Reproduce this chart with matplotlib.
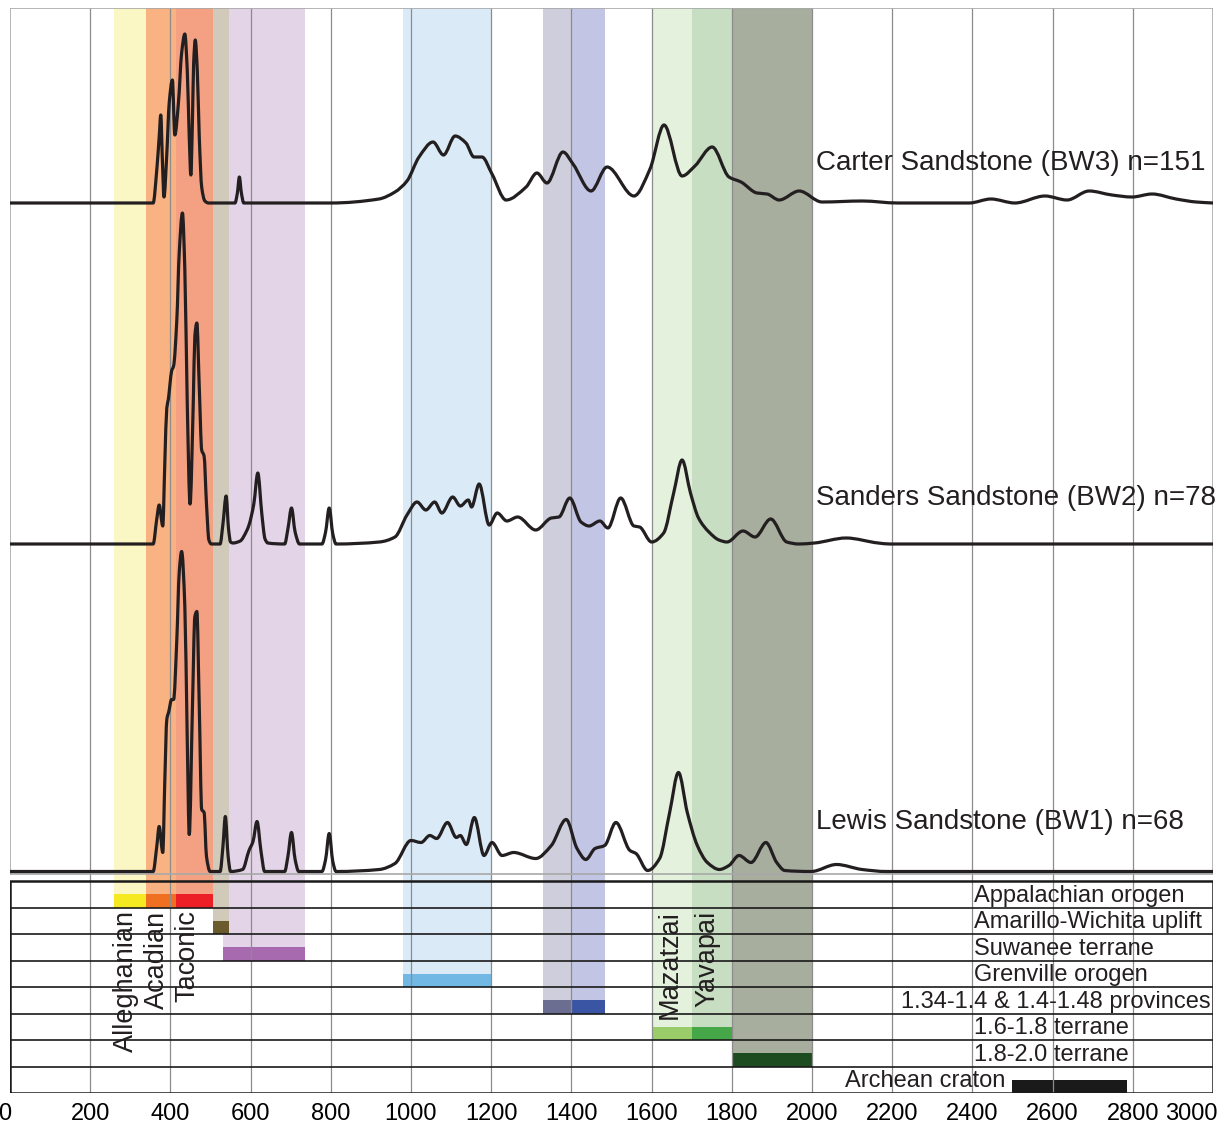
import matplotlib
matplotlib.use("Agg")
import matplotlib.pyplot as plt
from matplotlib.path import Path
from matplotlib.patches import PathPatch

plt.rcParams["font.family"] = ["Liberation Sans", "DejaVu Sans"]

# 年龄 (Ma) 与相对概率
carter_age = [0, 357, 366, 372, 376, 380, 384, 391, 397, 405, 411, 420, 428, 436, 442,
              447, 451, 455, 458, 462, 467, 472, 478, 486, 495, 561, 567, 572, 577, 583,
              800, 920, 960, 990, 1020, 1055, 1081, 1110, 1137, 1157, 1177, 1202, 1237,
              1287, 1314, 1339, 1379, 1404, 1449, 1489, 1556, 1596, 1631, 1676, 1708,
              1751, 1793, 1823, 1863, 1888, 1918, 1968, 2025, 2125, 2214, 2392, 2446,
              2506, 2581, 2636, 2691, 2748, 2798, 2848, 2908, 2958, 3000]
carter_prob = [0, 0, 33, 66, 88, 43, 6, 49, 100, 123, 68, 100, 150, 169, 133,
               66, 28, 83, 140, 163, 133, 66, 16, 2, 0, 0, 10, 26, 10, 0,
               0, 4, 11, 22, 46, 61, 48, 67, 60, 46, 46, 29, 3,
               16, 30, 20, 51, 39, 12, 36, 7, 34, 78, 27, 37,
               56, 26, 21, 10, 9, 3, 12, 1, 2, 0, 0, 4,
               0, 7, 3, 12, 8, 6, 9, 4, 1, 0]

sanders_age = [0, 357, 366, 372, 381, 386, 391, 395, 399, 403, 408, 416, 422, 430, 436,
               442, 449, 457, 461, 466, 472, 478, 484, 490, 496, 502, 524, 531, 539, 545,
               550, 556, 574, 590, 596, 608, 618, 628, 636, 643, 685, 693, 702, 711, 722,
               778, 787, 796, 805, 813, 921, 960, 990, 1015, 1037, 1059, 1077, 1104, 1123,
               1143, 1151, 1170, 1195, 1215, 1239, 1266, 1311, 1350, 1369, 1396, 1424,
               1444, 1471, 1491, 1523, 1556, 1570, 1600, 1630, 1655, 1676, 1697, 1717,
               1743, 1768, 1788, 1828, 1858, 1897, 1937, 1967, 2006, 2085, 2165, 2195, 3000]
sanders_prob = [0, 0, 25, 39, 18, 80, 136, 145, 160, 173, 178, 224, 291, 331, 274,
                141, 40, 141, 208, 221, 157, 94, 88, 40, 4, 0, 0, 20, 48, 15,
                2, 1, 3, 13, 19, 40, 71, 30, 5, 1, 0, 15, 36, 12, 0,
                0, 12, 36, 10, 0, 2, 7, 29, 42, 34, 42, 31, 47, 38,
                44, 37, 60, 19, 31, 23, 27, 14, 26, 27, 46, 22,
                18, 23, 16, 46, 18, 17, 2, 11, 51, 84, 51, 26,
                12, 4, 2, 13, 7, 25, 2, 0, 1, 6, 1, 0, 0]

lewis_age = [0, 357, 366, 372, 381, 386, 391, 396, 403, 408, 416, 422, 428, 436, 442,
             447, 455, 461, 466, 472, 478, 484, 490, 499, 524, 531, 537, 544, 550, 580,
             596, 606, 616, 626, 635, 685, 693, 702, 711, 720, 778, 787, 796, 805, 813,
             921, 960, 1000, 1025, 1047, 1064, 1091, 1113, 1123, 1138, 1158, 1182, 1202,
             1227, 1256, 1311, 1350, 1387, 1414, 1436, 1459, 1483, 1511, 1546, 1561,
             1590, 1620, 1645, 1667, 1689, 1714, 1739, 1769, 1793, 1818, 1848, 1885,
             1912, 1932, 1998, 2061, 2125, 2185, 3000]
lewis_prob = [0, 0, 25, 45, 19, 90, 152, 160, 172, 172, 232, 299, 320, 265, 132,
              37, 165, 255, 260, 165, 62, 59, 15, 0, 0, 25, 55, 15, 0, 2,
              21, 30, 50, 20, 0, 0, 15, 39, 12, 0, 0, 12, 38, 10, 0,
              2, 8, 31, 29, 36, 33, 49, 34, 36, 27, 54, 16, 29,
              16, 19, 13, 26, 52, 23, 12, 23, 26, 49, 21, 18,
              1, 13, 59, 99, 59, 26, 9, 2, 6, 16, 9, 29,
              9, 1, 0, 7, 2, 0, 0]

sample_labels = ["Carter Sandstone (BW3) n=151", "Sanders Sandstone (BW2) n=78",
                 "Lewis Sandstone (BW1) n=68"]

# 源区 (表格行) 与年龄范围
province_names = ["Appalachian orogen", "Amarillo-Wichita uplift", "Suwanee terrane",
                  "Grenville orogen", "1.34-1.4 & 1.4-1.48 provinces", "1.6-1.8 terrane",
                  "1.8-2.0 terrane", "Archean craton"]
province_start = [[260, 340, 415], [505], [530], [980], [1330, 1400], [1600, 1700], [1800], [2500]]
province_end = [[340, 415, 505], [545], [735], [1200], [1400, 1485], [1700, 1800], [2000], [2785]]
event_names = ["Alleghanian", "Acadian", "Taconic", "Mazatzai", "Yavapai"]
event_age = [290, 367, 443, 1645, 1738]

# 颜色
bar_colors = [["#f5e922", "#f07022", "#ed1f26"], ["#6b5a2c"], ["#a86aae"], ["#72b8e4"],
              ["#6c6e91", "#3a55a4"], ["#9acd6a", "#45a748"], ["#1e4c21"], ["#1a1a1a"]]
band_colors = [["#faf7c4", "#f9b282", "#f4a183"], ["#d1c9b9"], ["#e3d4e7"], ["#daebf7"],
               ["#cfcedc", "#c3c5e4"], ["#e4f1dc", "#c8dec2"], ["#a7ae9d"], [None]]

W, H = 1223, 1127
RH = 26.5                   # 表格行高
TABLE_TOP = 8 * RH
PANEL_BOTTOM = 219.5
PANEL_TOP = 1085
baselines = [890, 549, 221.5]
label_y = [930, 595, 271]
TXT = "#231f20"


def smooth_path(xs, ys):
    # 单调三次曲线 (Fritsch-Butland 斜率), 只用于画线, 不产生新数据点
    n = len(xs)
    d = [(ys[i + 1] - ys[i]) / (xs[i + 1] - xs[i]) for i in range(n - 1)]
    m = [0.0] * n
    m[0], m[-1] = d[0], d[-1]
    for i in range(1, n - 1):
        if d[i - 1] * d[i] > 0:
            h0, h1 = xs[i] - xs[i - 1], xs[i + 1] - xs[i]
            w1, w2 = 2 * h1 + h0, h1 + 2 * h0
            m[i] = (w1 + w2) / (w1 / d[i - 1] + w2 / d[i])
    verts = [(xs[0], ys[0])]
    codes = [Path.MOVETO]
    for i in range(n - 1):
        h = xs[i + 1] - xs[i]
        verts += [(xs[i] + h / 3, ys[i] + m[i] * h / 3),
                  (xs[i + 1] - h / 3, ys[i + 1] - m[i + 1] * h / 3),
                  (xs[i + 1], ys[i + 1])]
        codes += [Path.CURVE4] * 3
    return Path(verts, codes)


fig = plt.figure(figsize=(W / 100, H / 100), dpi=100)
ax = fig.add_axes([10 / W, 34 / H, 1203 / W, 1085 / H])
ax.set_xlim(0, 3000)
ax.set_ylim(0, PANEL_TOP)
for s in ax.spines.values():
    s.set_visible(False)
ax.set_yticks([])

# 竖向色带 + 表格色块
for i in reversed(range(len(province_names))):
    row_bottom = TABLE_TOP - (i + 1) * RH
    bar_top = row_bottom + 0.5 * RH
    for a0, a1, bc, fc in zip(province_start[i], province_end[i], bar_colors[i], band_colors[i]):
        if fc is not None:
            ax.bar(a0, PANEL_TOP - bar_top, width=a1 - a0, bottom=bar_top, align="edge",
                   color=fc, lw=0, zorder=1)
        ax.bar(a0, 0.5 * RH, width=a1 - a0, bottom=row_bottom, align="edge",
               color=bc, lw=0, zorder=2)

# 网格线
ax.vlines(range(200, 3000, 200), 0, PANEL_TOP, color="#8c8c8c", lw=0.9, zorder=3)

# 上部面板边框
ax.plot([0, 0, 3000, 3000, 0], [PANEL_BOTTOM, PANEL_TOP, PANEL_TOP, PANEL_BOTTOM, PANEL_BOTTOM],
        color="#a8a8a8", lw=1.2, zorder=3)

# 表格线
ax.hlines([RH * k for k in range(1, 8)], 0, 3000, color="#1a1a1a", lw=1.2, zorder=4)
ax.plot([0, 0, 3000, 3000, 0], [0, TABLE_TOP, TABLE_TOP, 0, 0], color="#1a1a1a",
        lw=1.8, zorder=4, solid_joinstyle="miter")

# 概率密度曲线
for age, prob, base, lab, ly in zip([carter_age, sanders_age, lewis_age],
                                    [carter_prob, sanders_prob, lewis_prob],
                                    baselines, sample_labels, label_y):
    path = smooth_path(age, [base + p for p in prob])
    ax.add_patch(PathPatch(path, facecolor="none", edgecolor="#231f20", lw=2.3,
                           zorder=5, joinstyle="round", capstyle="butt"))
    ax.text(2010, ly, lab, fontsize=20, color=TXT, va="center", ha="left", zorder=6)

# 表格文字
for i, name in enumerate(province_names):
    yc = TABLE_TOP - (i + 0.5) * RH - 1.5
    if i == 4:
        ax.text(2993, yc, name, fontsize=17, color=TXT, va="center", ha="right", zorder=6)
    elif i == 7:
        ax.text(2482, yc, name, fontsize=17, color=TXT, va="center", ha="right", zorder=6)
    else:
        ax.text(2405, yc, name, fontsize=17, color=TXT, va="center", ha="left", zorder=6)

for name, age in zip(event_names, event_age):
    ax.text(age, TABLE_TOP - RH - 3, name, fontsize=19.5, color=TXT, rotation=90,
            va="top", ha="center", zorder=6)

# x 轴刻度 (两端标签单独放置)
ticks = list(range(0, 3001, 200))
ax.set_xticks(ticks)
ax.set_xticklabels([""] + [str(t) for t in ticks[1:-1]] + [""])
ax.tick_params(axis="x", length=0, pad=7, labelsize=17)
ax.annotate(str(ticks[0]), xy=(ticks[0], 0), xycoords=("data", "axes fraction"),
            xytext=(-4, -7), textcoords="offset points", ha="center", va="top", fontsize=17)
ax.annotate(str(ticks[-1]), xy=(ticks[-1], 0), xycoords=("data", "axes fraction"),
            xytext=(3.5, -7), textcoords="offset points", ha="right", va="top", fontsize=17)

fig.savefig("out.png", dpi=100)
